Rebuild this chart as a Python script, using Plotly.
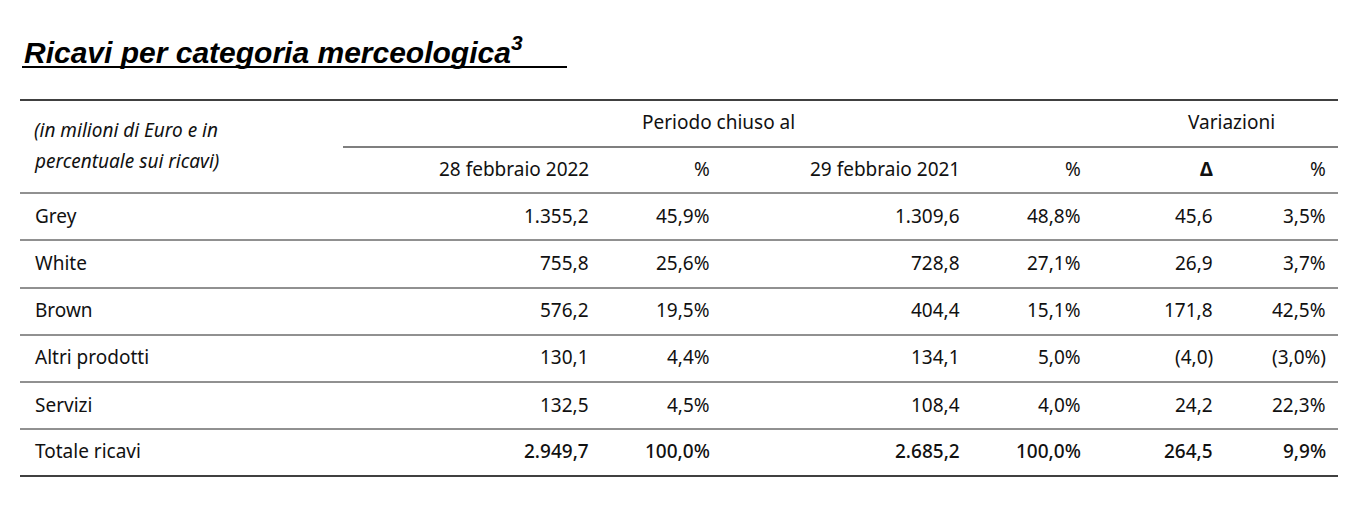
import plotly.graph_objects as go

categorie = ['Grey', 'White', 'Brown', 'Altri prodotti', 'Servizi', 'Totale ricavi']
ricavi_2022 = ['1.355,2', '755,8', '576,2', '130,1', '132,5', '2.949,7']
perc_2022 = ['45,9%', '25,6%', '19,5%', '4,4%', '4,5%', '100,0%']
ricavi_2021 = ['1.309,6', '728,8', '404,4', '134,1', '108,4', '2.685,2']
perc_2021 = ['48,8%', '27,1%', '15,1%', '5,0%', '4,0%', '100,0%']
delta = ['45,6', '26,9', '171,8', '(4,0)', '24,2', '264,5']
delta_perc = ['3,5%', '3,7%', '42,5%', '(3,0%)', '22,3%', '9,9%']
intestazioni = ['28 febbraio 2022', '%', '29 febbraio 2021', '%', '<b>Δ</b>', '%']

FONT = 'Noto Sans'
OFF = 8  # page offset compensation
col_x = [591, 712, 962, 1083, 1215, 1328]
row_y = [216, 263, 310, 357, 405, 451]

fig = go.Figure()
ann = []

def txt(x, y, s, anchor='left', size=19, weight=400, italic=False):
    ann.append(dict(x=x - OFF, y=y - OFF, xref='x', yref='y', text=s, showarrow=False,
                    xanchor=anchor, yanchor='middle',
                    font=dict(family=FONT, size=size, color='#111', weight=weight,
                              style='italic' if italic else 'normal')))

# titolo
ann.append(dict(x=22 - OFF, y=50 - OFF, xref='x', yref='y', showarrow=False, xanchor='left', yanchor='middle',
                text='<b><i>Ricavi per categoria merceologica<sup>3</sup></i></b>',
                font=dict(family='Liberation Sans', size=30, color='#000')))

txt(32, 130, '(in milioni di Euro e in', italic=True)
txt(32, 161, 'percentuale sui ricavi)', italic=True)
txt(718, 122, 'Periodo chiuso al', anchor='center')
txt(1231, 122, 'Variazioni', anchor='center')
for x, s in zip(col_x, intestazioni):
    txt(x, 169, s, anchor='right')

colonne = [ricavi_2022, perc_2022, ricavi_2021, perc_2021, delta, delta_perc]
for i, (cat, y) in enumerate(zip(categorie, row_y)):
    totale = i == len(categorie) - 1
    txt(33, y, cat, weight=400)
    for x, col in zip(col_x, colonne):
        txt(x, y, col[i], anchor='right', weight=500 if totale else 400)

shapes = [dict(type='line', x0=22, x1=567, y0=67, y1=67, line=dict(color='#000', width=2)),
          dict(type='line', x0=20, x1=1338, y0=100, y1=100, line=dict(color='#000', width=1.5)),
          dict(type='line', x0=343, x1=1338, y0=147, y1=147, line=dict(color='#000', width=1.2)),
          dict(type='line', x0=20, x1=1338, y0=476, y1=476, line=dict(color='#000', width=1.5))]
for y in [193, 240, 288, 335, 382, 429]:
    shapes.append(dict(type='line', x0=20, x1=1338, y0=y, y1=y, line=dict(color='#222', width=1)))
for s in shapes:
    s.update(xref='x', yref='y', x0=s['x0'] - OFF, x1=s['x1'] - OFF, y0=s['y0'] - OFF, y1=s['y1'] - OFF)

fig.update_layout(width=1354, height=526, margin=dict(l=0, r=0, t=0, b=0),
                  plot_bgcolor='white', paper_bgcolor='white', showlegend=False,
                  xaxis=dict(range=[0, 1354], visible=False, fixedrange=True),
                  yaxis=dict(range=[526, 0], visible=False, fixedrange=True),
                  annotations=ann, shapes=shapes)
fig.write_html('out.html')
